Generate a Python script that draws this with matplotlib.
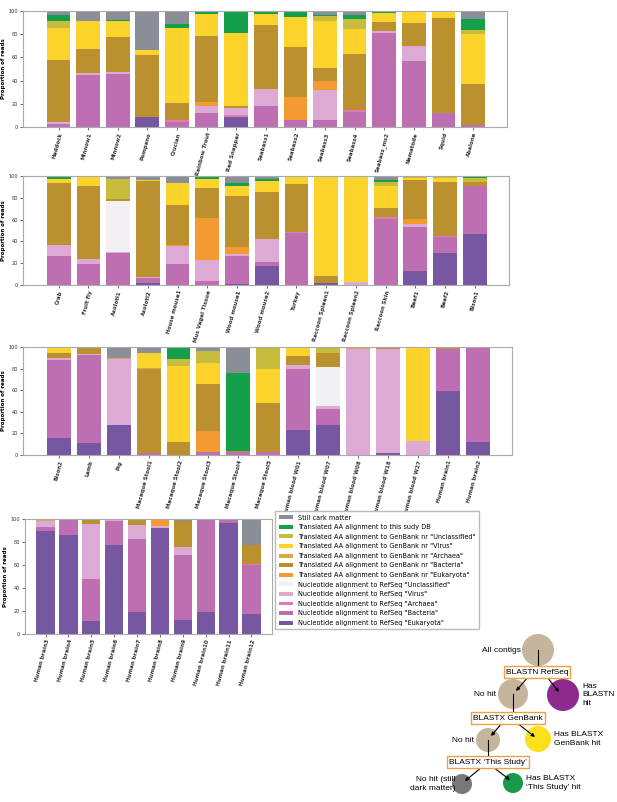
import numpy as np
import matplotlib
matplotlib.use('Agg')
from matplotlib import pyplot as plt
from matplotlib.patches import Circle, Patch

# Sample names, one list per panel
names_p1 = ['Haddock', 'Minnow1', 'Minnow2', 'Pompano', 'Crucian', 'Rainbow Trout', 'Red Snapper',
            'Seabass1', 'Seabass2', 'Seabass3', 'Seabass4', 'Seabass_ms2', 'Nematode', 'Squid', 'Abalone']
names_p2 = ['Crab', 'Fruit fly', 'Axolotl1', 'Axolotl2', 'House mouse1', 'Mus Vagel Tissue', 'Wood mouse1',
            'Wood mouse2', 'Turkey', 'Raccoon Spleen1', 'Raccoon Spleen2', 'Raccoon Skin', 'Beef1', 'Beef2', 'Bison1']
names_p3 = ['Bison2', 'Lamb', 'Pig', 'Macaque Stool1', 'Macaque Stool2', 'Macaque Stool3', 'Macaque Stool4',
            'Macaque Stool5', 'Human blood W01', 'Human blood W07', 'Human blood W08', 'Human blood W18',
            'Human blood W27', 'Human brain1', 'Human brain2']
names_p4 = ['Human brain3', 'Human brain4', 'Human brain5', 'Human brain6', 'Human brain7', 'Human brain8',
            'Human brain9', 'Human brain10', 'Human brain11', 'Human brain12']

# Proportion of reads (%) per category, samples in panel order p1 | p2 | p3 | p4
nt_euk = [0, 0, 0, 9, 0, 0, 8.6, 0, 0, 0, 0, 0, 0, 0, 0,
          0, 0, 0, 2.1, 0, 0, 1, 17.4, 0, 2.1, 0, 0, 12.8, 29, 46.8,
          15.5, 11.5, 28, 0, 0, 0, 0, 0, 22.7, 28, 0, 1.5, 0, 59.6, 12.4,
          89.9, 86.4, 11, 77.7, 18.8, 92.2, 12.5, 18.8, 96.5, 17.7]
nt_bac = [2.5, 45, 46, 0, 4.3, 12, 0, 18, 5.7, 5.7, 13, 81, 57, 12, 1.4,
          26.6, 19, 29.7, 4, 19.3, 3.7, 26, 4, 47.4, 0, 0, 60.9, 40.4, 15.3, 43.7,
          72.4, 80.7, 0, 2.2, 0, 2.5, 2.5, 2.5, 57.1, 14.9, 0, 0, 0, 38.2, 87.6,
          2.9, 13.6, 37.1, 20.9, 64.1, 0, 55.9, 81.2, 3.5, 42]
nt_arc = [0, 0, 0, 0, 1.4, 0, 1.5, 0, 0, 0, 2, 0, 0, 0, 0,
          0, 0, 0, 0, 0, 0, 0, 0, 1.6, 0, 0, 1.1, 0, 1, 0,
          0, 0, 0, 0, 0, 0, 0, 0, 0, 0, 0, 0, 0, 0, 0,
          0, 0, 0, 0, 0, 0, 0, 0, 0, 0.9]
nt_vir = [1.5, 1.5, 1.7, 0, 0, 6, 6.6, 15, 0, 25.9, 0, 1.8, 12.5, 0, 0,
          9.8, 5.2, 0.9, 1.5, 16.2, 18.9, 1.7, 20.5, 0, 0, 3, 0, 2.5, 0, 0,
          2.1, 1.6, 61.1, 0, 0, 0, 0, 0, 3.1, 2.1, 98.4, 96.9, 13, 0, 0,
          5.8, 0, 47.8, 0.8, 12.1, 1.4, 7, 0, 0, 0]
nt_unc = [0, 0, 0, 0, 0, 0, 0, 0, 0, 0, 0, 0, 0, 0, 0,
          0, 0, 46.8, 0, 0, 0, 0, 0, 0, 0, 0, 0, 0, 0, 0,
          0, 0, 0, 0, 0, 0, 0, 0, 0, 36.7, 0, 0, 0, 0, 0,
          0, 0, 0, 0, 0, 0, 0, 0, 0, 0]
aa_euk = [0, 0, 0, 0, 0, 3.5, 0, 0, 20.2, 7.8, 0, 0, 0, 0, 0,
          0, 0, 0, 0, 1.2, 38.6, 5.9, 0, 0, 0, 0, 0, 5.2, 0, 0,
          0, 0, 0, 0, 0, 19.9, 0, 0, 0, 0, 0, 0, 0, 0, 0,
          0, 0, 0, 0, 0, 6.4, 0, 0, 0, 0]
aa_bac = [54, 21, 30.3, 53, 14.7, 57.2, 1.3, 55, 43.1, 11.6, 47.6, 7.4, 20.2, 82, 36,
          56.9, 66.6, 1.6, 88.1, 36.3, 27.5, 47.4, 43.1, 44, 6.2, 0, 9, 35.1, 49.5, 3.7,
          4.4, 6.2, 0, 77, 12.4, 43.4, 1.2, 45.3, 8.7, 12.4, 0, 1.6, 0, 2.2, 0,
          0, 0, 3.5, 0.6, 5, 0, 22.6, 0, 0, 16.5]
aa_arc = [0, 0, 0, 0, 0, 0, 0, 0, 0, 0, 0, 0, 0, 0, 0,
          0, 0, 0, 0, 0, 0, 0, 0, 0, 0, 0, 0, 0, 0, 0,
          0, 0, 0.9, 1.5, 0, 0, 0, 0, 0, 0, 1.6, 0, 0, 0, 0,
          1.4, 0, 0, 0, 0, 0, 0, 0, 0, 0]
aa_vir = [27, 24, 13.5, 4, 65.2, 18.3, 63, 9.7, 25.8, 40.4, 22.2, 8.1, 10.3, 6, 43.1,
          3.9, 9.2, 0, 0.9, 20.9, 8.5, 8.5, 10.7, 7, 91.7, 97, 20.1, 2.5, 3.7, 0,
          4.4, 0, 0, 14, 69.9, 19, 0, 31.4, 7.2, 0, 0, 0, 87, 0, 0,
          0, 0, 0, 0, 0, 0, 0, 0, 0, 0]
aa_unc = [6, 0, 0, 0, 0, 0, 0, 0, 0, 4.3, 8.6, 0, 0, 0, 3.5,
          0, 0, 18.2, 0, 0, 0, 0, 0, 0, 0, 0, 3.7, 1.5, 1.5, 4,
          1.2, 0, 0, 0, 6.2, 11.5, 0, 20.2, 1.2, 4.7, 0, 0, 0, 0, 0,
          0, 0, 0, 0, 0, 0, 0, 0, 0, 0]
aa_study = [5.5, 0, 1, 0, 2.9, 3, 18, 1.7, 4.2, 0.8, 3.1, 1.4, 0, 0, 8.8,
            1.6, 0, 0, 0, 0, 2.8, 3.4, 1.2, 0, 0, 0, 1.2, 0, 0, 1.8,
            0, 0, 0, 0, 11.5, 0, 72.1, 0, 0, 0, 0, 0, 0, 0, 0,
            0, 0, 0, 0, 0, 0, 0, 0, 0, 0]
dark = [3.5, 8.5, 7.5, 34, 11.5, 0, 1, 0.6, 1, 3.5, 3.5, 0.3, 0, 0, 7.2,
        1.2, 0, 2.8, 3.4, 6.1, 0, 6.1, 3.1, 0, 0, 0, 4, 0, 0, 0,
        0, 0, 10, 5.3, 0, 3.7, 24.2, 0.6, 0, 1.2, 0, 0, 0, 0, 0,
        0, 0, 0.6, 0, 0, 0, 2, 0, 0, 22.9]

# stacking order, bottom to top
series = [nt_euk, nt_bac, nt_arc, nt_vir, nt_unc, aa_euk, aa_bac, aa_arc, aa_vir, aa_unc, aa_study, dark]
labels = ['Nucleotide alignment to RefSeq "Eukaryota"',
          'Nucleotide alignment to RefSeq "Bacteria"',
          'Nucleotide alignment to RefSeq "Archaea"',
          'Nucleotide alignment to RefSeq "Virus"',
          'Nucleotide alignment to RefSeq "Unclassified"',
          'Translated AA alignment to GenBank nr "Eukaryota"',
          'Translated AA alignment to GenBank nr "Bacteria"',
          'Translated AA alignment to GenBank nr "Archaea"',
          'Translated AA alignment to GenBank nr "Virus"',
          'Translated AA alignment to GenBank nr "Unclassified"',
          'Translated AA alignment to this sudy DB',
          'Still cark matter']
colors = ['#7757a2', '#bd6fb2', '#e57aae', '#dcaad4', '#f2f0f2', '#f59a30',
          '#bb912f', '#d9a84a', '#fcd32a', '#c8bc3c', '#14a04a', '#8a8e96']

data = np.array(series, dtype=float)

W, H = 617, 802
fig = plt.figure(figsize=(W / 100, H / 100), dpi=100)

def px_axes(left, top, right, bottom):
    return fig.add_axes([left / W, 1 - bottom / H, (right - left) / W, (bottom - top) / H])

panels = [(names_p1, (23, 11, 507, 127), 1.2, 1.15),
          (names_p2, (23, 176, 509, 285), 1.2, 1.15),
          (names_p3, (23, 347, 512, 455), 1.2, 1.15),
          (names_p4, (25, 519, 272, 634), 0.9, 0.9)]

start = 0
for names, box, pad_l, pad_r in panels:
    n = len(names)
    vals = data[:, start:start + n]
    start += n
    ax = px_axes(*box)
    x = np.arange(n)
    bottom = np.zeros(n)
    for k in range(len(series)):
        ax.bar(x, vals[k], width=0.8, bottom=bottom, color=colors[k], linewidth=0)
        bottom += vals[k]
    ax.set_xlim(-pad_l, n - 1 + pad_r)
    ax.set_ylim(0, 100)
    ax.set_yticks([0, 20, 40, 60, 80, 100])
    ax.set_xticks(x)
    ax.set_xticklabels(names, rotation=75, ha='right', rotation_mode='anchor',
                       fontsize=4, fontweight='bold')
    ax.tick_params(axis='y', labelsize=3.6, length=2, width=0.5, pad=1.5, colors='#333333')
    ax.tick_params(axis='x', length=2, width=0.5, pad=1.5, colors='#333333')
    ax.set_ylabel('Proportion of reads', fontsize=4, fontweight='bold', labelpad=2)
    for s in ax.spines.values():
        s.set_color('#aaaaaa')
        s.set_linewidth(0.8)

# legend, top entry first
handles = [Patch(facecolor=colors[k], edgecolor='none', label=labels[k]) for k in range(len(series))][::-1]
fig.legend(handles=handles, loc='upper left', bbox_to_anchor=(272 / W, 1 - 508 / H),
           fontsize=4.7, frameon=True, fancybox=False, edgecolor='#bbbbbb', framealpha=1,
           handlelength=2.2, handleheight=0.55, labelspacing=0.55, borderpad=0.5, handletextpad=0.8)

# flow diagram, drawn in pixel coordinates
fa = fig.add_axes([0, 0, 1, 1])
fa.set_xlim(0, W)
fa.set_ylim(H, 0)
fa.axis('off')
fa.patch.set_alpha(0)

tan, purple, yellow, grey, green = '#c4b59c', '#8e2a8e', '#fde01c', '#77787a', '#169a48'
ff = 'Liberation Sans'
fs = 6

def circ(xc, yc, r, c):
    fa.add_patch(Circle((xc, yc), r, facecolor=c, edgecolor='none', zorder=2))

def line(p0, p1):
    fa.plot([p0[0], p1[0]], [p0[1], p1[1]], color='black', lw=0.8, zorder=3)

def arrow(p0, p1):
    fa.annotate('', xy=p1, xytext=p0,
                arrowprops=dict(arrowstyle='-|>', color='black', lw=0.8, mutation_scale=5,
                                shrinkA=0, shrinkB=0), zorder=4)

def boxtext(xc, yc, s):
    fa.text(xc, yc, s, ha='center', va='center', fontsize=fs, family=ff, zorder=5,
            bbox=dict(boxstyle='square,pad=0.25', facecolor='white', edgecolor='#f0a040', lw=1.0))

circ(538, 650, 16, tan)
fa.text(521, 650, 'All contigs', ha='right', va='center', fontsize=fs, family=ff)
line((538, 650), (538, 668))
boxtext(537, 672, 'BLASTN RefSeq')
circ(513, 694, 15, tan)
circ(563, 695, 16, purple)
arrow((528, 677), (516, 691))
arrow((547, 677), (559, 692))
fa.text(496, 694, 'No hit', ha='right', va='center', fontsize=fs, family=ff)
fa.text(582, 695, 'Has\nBLASTN\nhit', ha='left', va='center', fontsize=fs, family=ff, linespacing=1.3)
line((513, 694), (513, 714))
boxtext(508, 718, 'BLASTX GenBank')
circ(488, 740, 12, tan)
circ(538, 739, 13, yellow)
arrow((502, 723), (491, 736))
arrow((517, 723), (535, 737))
fa.text(474, 740, 'No hit', ha='right', va='center', fontsize=fs, family=ff)
fa.text(554, 739, 'Has BLASTX\nGenBank hit', ha='left', va='center', fontsize=fs, family=ff, linespacing=1.3)
line((488, 740), (488, 758))
boxtext(488, 762, 'BLASTX \u2018This Study\u2019')
circ(462, 784, 10, grey)
circ(513, 783, 10, green)
arrow((482, 767), (465, 781))
arrow((493, 767), (510, 780))
fa.text(455, 784, 'No hit (still\ndark matter)', ha='right', va='center', fontsize=fs, family=ff, linespacing=1.3)
fa.text(526, 783, 'Has BLASTX\n\u2018This Study\u2019 hit', ha='left', va='center', fontsize=fs, family=ff, linespacing=1.3)

plt.savefig('out.png', dpi=100)
